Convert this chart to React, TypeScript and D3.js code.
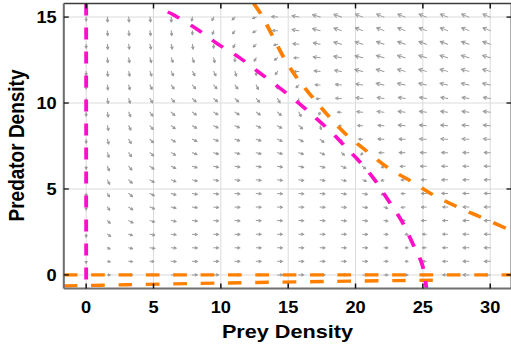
import React from 'react';
import * as d3 from 'd3';

// ---- data ----
const xTicks = [0, 5, 10, 15, 20, 25, 30];
const yTicks = [0, 5, 10, 15];

// quiver sampling grid
const gridX = [0, 1.58, 3.16, 4.74, 6.32, 7.89, 9.47, 11.05, 12.63, 14.21, 15.79, 17.37, 18.95, 20.53, 22.11, 23.68, 25.26, 26.84, 28.42, 30];
const gridY = [0, 0.79, 1.58, 2.37, 3.16, 3.95, 4.74, 5.53, 6.32, 7.11, 7.89, 8.68, 9.47, 10.26, 11.05, 11.84, 12.63, 13.42, 14.21, 15];

// arrow directions in degrees on screen (0 = right, 90 = down, 180 = left), rows from y=15 down to y=0
const arrowAngle: (number | null)[][] = [
  [90, 88, 86, 84, 90, 100, 115, 135, 160, 185, 192, 198, 200, 202, 202, 202, 202, 202, 202, 202],
  [90, 87, 84, 82, 84, 90, 108, 128, 150, 182, 190, 196, 199, 201, 202, 202, 202, 202, 202, 202],
  [90, 86, 82, 78, 78, 82, 92, 118, 138, 165, 186, 192, 196, 199, 200, 200, 200, 200, 200, 200],
  [90, 85, 80, 74, 70, 72, 78, 92, 122, 142, 180, 188, 192, 195, 197, 198, 198, 198, 198, 198],
  [90, 84, 78, 70, 63, 60, 64, 74, 92, 125, 178, 186, 190, 193, 195, 196, 196, 196, 196, 196],
  [90, 83, 75, 65, 55, 50, 50, 55, 65, 92, 135, 182, 186, 189, 192, 193, 193, 193, 193, 193],
  [90, 82, 72, 60, 48, 42, 40, 42, 48, 60, 100, 175, 184, 187, 189, 190, 190, 190, 190, 190],
  [90, 80, 68, 55, 43, 36, 32, 32, 35, 42, 62, 112, 180, 184, 186, 187, 187, 187, 187, 187],
  [90, 78, 64, 50, 38, 30, 26, 24, 26, 31, 40, 75, 172, 182, 184, 185, 185, 185, 185, 185],
  [90, 75, 60, 45, 34, 26, 21, 19, 19, 22, 28, 40, 100, 180, 182, 183, 183, 183, 183, 183],
  [90, 72, 55, 40, 30, 22, 17, 15, 14, 15, 18, 25, 38, 125, 180, 181, 182, 182, 182, 182],
  [90, 68, 50, 36, 26, 18, 14, 11, 10, 11, 13, 16, 22, 40, 150, 179, 180, 181, 181, 181],
  [90, 65, 45, 32, 22, 15, 11, 9, 8, 8, 9, 11, 14, 22, 160, 178, 180, 180, 180, 180],
  [90, 60, 40, 27, 18, 12, 9, 7, 6, 6, 6, 7, 9, 13, 150, 175, 179, 180, 180, 180],
  [90, 55, 35, 22, 14, 10, 7, 5, 4, 4, 4, 5, 6, 8, 20, 172, 178, 180, 180, 180],
  [90, 45, 28, 17, 11, 7, 5, 4, 3, 3, 3, 3, 4, 5, 8, 176, 179, 180, 180, 180],
  [90, 35, 20, 12, 8, 5, 4, 3, 2, 2, 2, 2, 2, 3, 4, 10, 180, 180, 180, 180],
  [90, 25, 13, 8, 5, 3, 2, 2, 1, 1, 1, 1, 1, 1, 2, 3, 180, 180, 180, 180],
  [90, 13, 7, 4, 3, 2, 1, 1, 0, 0, 0, 0, 0, 0, 0, 1, 180, 180, 180, 180],
  [null, 0, 0, 0, 0, 0, 0, 0, 0, 0, 0, 0, 0, 0, 0, 0, 180, 180, 180, 180],
];

// arrow lengths (screen px), same row order
const arrowLen: number[][] = [
  [4, 5, 5, 5, 5, 4, 4, 4, 4, 6, 7, 8, 8, 8, 8, 8, 8, 8, 8, 8],
  [4, 5, 5, 5, 5, 4, 4, 4, 4, 5, 7, 8, 8, 8, 8, 8, 8, 8, 8, 8],
  [4, 5, 5, 5, 5, 5, 4, 4, 4, 4, 6, 7, 8, 8, 8, 8, 8, 8, 8, 8],
  [4, 5, 5, 5, 5, 5, 5, 4, 4, 4, 5, 7, 8, 8, 8, 8, 8, 8, 8, 8],
  [4, 5, 5, 5, 5, 5, 5, 5, 4, 4, 5, 6, 7, 8, 8, 8, 8, 8, 8, 8],
  [4, 5, 5, 5, 5, 5, 5, 5, 5, 4, 4, 5, 6, 7, 8, 8, 8, 8, 8, 8],
  [4, 5, 5, 5, 5, 5, 5, 5, 5, 5, 4, 4, 6, 7, 7, 7, 7, 7, 7, 7],
  [4, 5, 5, 5, 5, 5, 5, 5, 5, 5, 5, 3, 4, 6, 7, 7, 7, 7, 7, 7],
  [4, 5, 5, 5, 5, 5, 5, 5, 5, 5, 5, 4, 3, 5, 6, 7, 7, 7, 7, 7],
  [4, 5, 5, 5, 5, 5, 5, 5, 5, 5, 5, 5, 3, 4, 6, 6, 7, 7, 7, 7],
  [3, 5, 5, 5, 5, 5, 5, 5, 5, 5, 5, 5, 4, 3, 5, 6, 6, 6, 6, 6],
  [3, 5, 5, 5, 5, 5, 5, 5, 5, 5, 5, 5, 5, 4, 3, 5, 6, 6, 6, 6],
  [3, 5, 5, 5, 5, 5, 5, 5, 5, 5, 5, 5, 5, 4, 3, 4, 5, 6, 6, 6],
  [3, 4, 5, 5, 5, 5, 5, 5, 5, 5, 5, 5, 5, 5, 3, 4, 5, 6, 6, 6],
  [3, 4, 5, 5, 5, 5, 5, 5, 5, 5, 5, 5, 5, 5, 4, 4, 5, 5, 6, 6],
  [3, 4, 5, 5, 5, 5, 5, 5, 5, 5, 5, 5, 5, 5, 4, 3, 5, 5, 6, 6],
  [3, 4, 4, 5, 5, 5, 5, 5, 5, 5, 5, 5, 5, 5, 4, 3, 4, 5, 6, 6],
  [2, 3, 4, 5, 5, 5, 5, 5, 5, 5, 5, 5, 5, 5, 4, 3, 4, 5, 6, 6],
  [2, 3, 4, 4, 5, 5, 5, 5, 5, 5, 5, 5, 5, 5, 4, 3, 4, 5, 6, 6],
  [0, 3, 4, 4, 5, 5, 5, 5, 5, 5, 5, 5, 5, 5, 4, 3, 4, 5, 6, 6],
];

// prey nullclines (magenta)
const preyAxisX = [0, 0];
const preyAxisY = [15.79, -0.79];
const preyCurveX = [5.62, 6.51, 8.22, 9.78, 11.42, 12.91, 14.47, 16.03, 17.22, 18.5, 19.46, 20.13, 21.32, 22.36, 23.47, 24.22, 24.96, 25.26];
const preyCurveY = [15.47, 15.12, 14.3, 13.43, 12.62, 11.74, 10.81, 9.83, 9.01, 8.08, 7.27, 6.74, 5.64, 4.42, 3.08, 1.86, 0.58, -0.79];

// predator nullclines (orange)
const predAxisX = [-1.66, 31.58];
const predAxisY = [0, 0];
const predCurveX = [12.44, 12.98, 13.88, 14.69, 15.66, 16.85, 18.12, 19.4, 20.72, 22.43, 24.22, 25.78, 27.57, 29.28, 31.29, 31.58];
const predCurveY = [15.79, 15.17, 13.84, 12.62, 11.45, 10.29, 9.13, 8.1, 7.27, 6.22, 5.41, 4.65, 3.95, 3.37, 2.67, 2.57];
const predLowX = [-1.66, 3, 8, 12.7, 18, 23, 25.74];
const predLowY = [-0.64, -0.57, -0.5, -0.44, -0.38, -0.33, -0.31];

// ---- layout ----
const W = 511;
const H = 349;
const S = 1.14; // horizontal stretch of the reference picture
const L = 63.8, R = 511.5, T = 3.5, B = 288.5;
const X_DOMAIN: [number, number] = [-1.66, 31.58];
const Y_DOMAIN: [number, number] = [-0.79, 15.79];

const MAGENTA = '#ff0fc8';
const ORANGE = '#ff8000';
const FONT = '"Liberation Sans", Arial, Helvetica, sans-serif';

export default function App() {
  const xPx = d3.scaleLinear().domain(X_DOMAIN).range([L, R]);
  const yPx = d3.scaleLinear().domain(Y_DOMAIN).range([B, T]);
  const x = d3.scaleLinear().domain(X_DOMAIN).range([L / S, R / S]);
  const y = yPx;

  const line = d3
    .line<[number, number]>()
    .x((d) => x(d[0]))
    .y((d) => y(d[1]))
    .curve(d3.curveCatmullRom.alpha(0.5));
  const zip = (xs: number[], ys: number[]) => xs.map((v, i) => [v, ys[i]] as [number, number]);

  const arrows: string[] = [];
  arrowAngle.forEach((row, r) => {
    const j = gridY.length - 1 - r;
    row.forEach((ang, c) => {
      const len = arrowLen[r][c];
      if (ang === null || !len) return;
      const fx = xPx(gridX[c]);
      const fy = yPx(gridY[j]);
      const th = (ang * Math.PI) / 180;
      const tx = fx + len * Math.cos(th);
      const ty = fy + len * Math.sin(th);
      const h = Math.max(2.2, len * 0.48);
      const a1 = th + Math.PI - 0.5;
      const a2 = th + Math.PI + 0.5;
      const h1x = tx + h * Math.cos(a1), h1y = ty + h * Math.sin(a1);
      const h2x = tx + h * Math.cos(a2), h2y = ty + h * Math.sin(a2);
      arrows.push(
        `M${fx / S},${fy}L${tx / S},${ty}M${h1x / S},${h1y}L${tx / S},${ty}L${h2x / S},${h2y}`
      );
    });
  });

  const tickLen = 5;

  return (
    <svg
      width={W}
      height={H}
      viewBox={`0 0 ${W} ${H}`}
      style={{ position: 'absolute', left: 0, top: 0, display: 'block', background: '#fff' }}
    >
      <defs>
        <clipPath id="plotClip">
          <rect x={L / S} y={T} width={(R - L) / S} height={B - T} />
        </clipPath>
      </defs>
      <g transform={`scale(${S},1)`}>
        <rect x={0} y={0} width={W / S} height={H} fill="#fff" />
        {/* grid */}
        {xTicks.map((t) => (
          <line key={'gx' + t} x1={x(t)} x2={x(t)} y1={T} y2={B} stroke="#dcdcdc" strokeWidth={0.9} />
        ))}
        {yTicks.map((t) => (
          <line key={'gy' + t} x1={L / S} x2={R / S} y1={y(t)} y2={y(t)} stroke="#dcdcdc" strokeWidth={1} />
        ))}

        {/* quiver */}
        <g clipPath="url(#plotClip)">
          <path d={arrows.join('')} fill="none" stroke="#9c9c9c" strokeWidth={1} strokeLinecap="round" strokeLinejoin="round" />
        </g>

        {/* nullclines */}
        <g clipPath="url(#plotClip)" fill="none" strokeWidth={3.4} strokeDasharray="12 12">
          <path d={line(zip(predAxisX, predAxisY)) || ''} stroke={ORANGE} />
          <path d={line(zip(predLowX, predLowY)) || ''} stroke={ORANGE} />
          <path d={line(zip(predCurveX, predCurveY)) || ''} stroke={ORANGE} />
          <path d={line(zip(preyAxisX, preyAxisY)) || ''} stroke={MAGENTA} />
          <path d={line(zip(preyCurveX, preyCurveY)) || ''} stroke={MAGENTA} strokeDashoffset={-6} />
        </g>

        {/* axes box */}
        <line x1={L / S} x2={R / S} y1={T} y2={T} stroke="#3c3c3c" strokeWidth={1.6} />
        <line x1={R / S} x2={R / S} y1={T} y2={B} stroke="#3c3c3c" strokeWidth={1.6} />
        <line x1={L / S} x2={R / S} y1={B} y2={B} stroke="#6e6e6e" strokeWidth={2} />
        <line x1={L / S} x2={L / S} y1={T} y2={B} stroke="#6e6e6e" strokeWidth={1.8} />

        {/* ticks */}
        {xTicks.map((t) => (
          <g key={'tx' + t}>
            <line x1={x(t)} x2={x(t)} y1={B} y2={B - tickLen} stroke="#111" strokeWidth={1.3} />
            <line x1={x(t)} x2={x(t)} y1={T} y2={T + tickLen} stroke="#111" strokeWidth={1.3} />
            <text
              x={x(t)}
              y={313.3}
              textAnchor="middle"
              fontFamily={FONT}
              fontWeight="bold"
              fontSize={16}
              fill="#000"
            >
              {t}
            </text>
          </g>
        ))}
        {yTicks.map((t) => (
          <g key={'ty' + t}>
            <line x1={L / S} x2={(L + tickLen) / S} y1={y(t)} y2={y(t)} stroke="#111" strokeWidth={1.3} />
            <line x1={R / S} x2={(R - tickLen) / S} y1={y(t)} y2={y(t)} stroke="#111" strokeWidth={1.3} />
            <text
              x={56.7 / S}
              y={y(t) + 5.8}
              textAnchor="end"
              fontFamily={FONT}
              fontWeight="bold"
              fontSize={16}
              fill="#000"
            >
              {t}
            </text>
          </g>
        ))}

        {/* axis labels */}
        <text
          x={287.5 / S}
          y={338.3}
          textAnchor="middle"
          fontFamily={FONT}
          fontWeight="bold"
          fontSize={19}
          fill="#000"
        >
          Prey Density
        </text>
        <text
          transform={`translate(${24.3 / S},${145.5}) rotate(-90)`}
          textAnchor="middle"
          fontFamily={FONT}
          fontWeight="bold"
          fontSize={19}
          fill="#000"
        >
          Predator Density
        </text>
      </g>
    </svg>
  );
}
